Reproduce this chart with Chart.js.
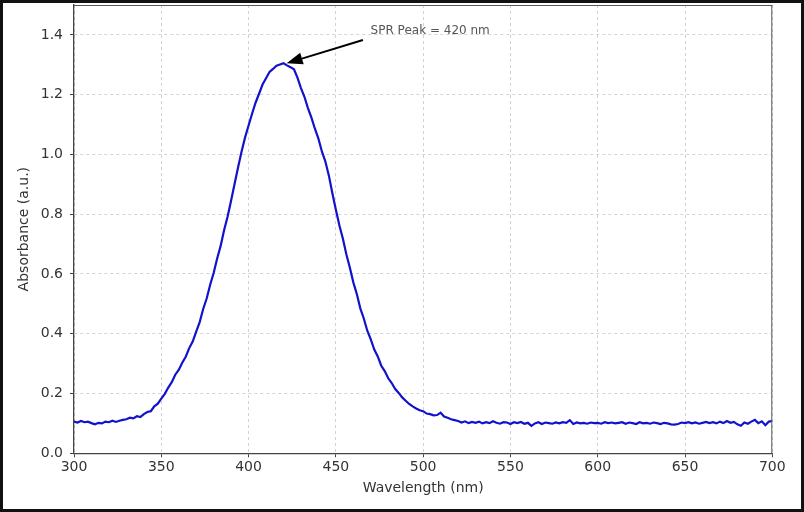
<!DOCTYPE html>
<html>
<head>
<meta charset="utf-8">
<script src="https://cdn.jsdelivr.net/npm/chart.js@4.4.1/dist/chart.umd.min.js"></script>
<style>
    html, body { margin: 0; padding: 0; background: #fff; }
    .frame {
        width: 804px; height: 512px;
        box-sizing: border-box;
        border: 3px solid #111;
        background: #fff;
    }
    canvas { display: block; }
</style>
</head>
<body>
<div class="frame">
    <canvas id="spectrum" width="798" height="506"></canvas>
</div>
<script>
// 波長 (nm)
const wavelengths = [
    300, 302, 304, 306, 308, 310, 312, 314, 316, 318, 320, 322, 324, 326, 328, 330, 332, 334, 336, 338, 340, 342, 344, 346, 348,
    350, 352, 354, 356, 358, 360, 362, 364, 366, 368, 370, 372, 374, 376, 378, 380, 382, 384, 386, 388, 390, 392, 394, 396, 398,
    400, 402, 404, 406, 408, 410, 412, 414, 416, 418, 420, 422, 424, 426, 428, 430, 432, 434, 436, 438, 440, 442, 444, 446, 448,
    450, 452, 454, 456, 458, 460, 462, 464, 466, 468, 470, 472, 474, 476, 478, 480, 482, 484, 486, 488, 490, 492, 494, 496, 498,
    500, 502, 504, 506, 508, 510, 512, 514, 516, 518, 520, 522, 524, 526, 528, 530, 532, 534, 536, 538, 540, 542, 544, 546, 548,
    550, 552, 554, 556, 558, 560, 562, 564, 566, 568, 570, 572, 574, 576, 578, 580, 582, 584, 586, 588, 590, 592, 594, 596, 598,
    600, 602, 604, 606, 608, 610, 612, 614, 616, 618, 620, 622, 624, 626, 628, 630, 632, 634, 636, 638, 640, 642, 644, 646, 648,
    650, 652, 654, 656, 658, 660, 662, 664, 666, 668, 670, 672, 674, 676, 678, 680, 682, 684, 686, 688, 690, 692, 694, 696, 698, 700
];

// 吸光度 (a.u.)
const absorbance = [
    0.106, 0.103, 0.108, 0.104, 0.106, 0.101, 0.097, 0.102, 0.100, 0.106, 0.104, 0.109, 0.105, 0.109, 0.112, 0.114, 0.119, 0.117, 0.124, 0.121, 0.131, 0.138, 0.141, 0.157, 0.166,
    0.183, 0.199, 0.220, 0.238, 0.263, 0.279, 0.303, 0.323, 0.352, 0.374, 0.407, 0.439, 0.483, 0.518, 0.564, 0.603, 0.652, 0.694, 0.747, 0.792, 0.846, 0.902, 0.957, 1.010, 1.057,
    1.097, 1.136, 1.173, 1.203, 1.234, 1.255, 1.276, 1.286, 1.297, 1.301, 1.305, 1.298, 1.292, 1.285, 1.257, 1.222, 1.193, 1.155, 1.123, 1.086, 1.053, 1.010, 0.976, 0.929, 0.870,
    0.815, 0.763, 0.719, 0.666, 0.622, 0.572, 0.533, 0.485, 0.451, 0.410, 0.381, 0.347, 0.324, 0.293, 0.275, 0.251, 0.235, 0.215, 0.202, 0.187, 0.176, 0.165, 0.157, 0.150, 0.144,
    0.141, 0.133, 0.131, 0.127, 0.128, 0.136, 0.123, 0.119, 0.114, 0.111, 0.108, 0.103, 0.107, 0.101, 0.105, 0.102, 0.106, 0.100, 0.104, 0.101, 0.107, 0.102, 0.099, 0.104, 0.103,
    0.098, 0.104, 0.101, 0.105, 0.099, 0.102, 0.092, 0.100, 0.104, 0.098, 0.103, 0.101, 0.099, 0.103, 0.100, 0.104, 0.102, 0.111, 0.098, 0.103, 0.100, 0.102, 0.099, 0.103, 0.101,
    0.102, 0.099, 0.104, 0.101, 0.103, 0.100, 0.102, 0.104, 0.099, 0.103, 0.101, 0.098, 0.104, 0.100, 0.102, 0.099, 0.103, 0.101, 0.098, 0.102, 0.100, 0.097, 0.096, 0.098, 0.103,
    0.101, 0.104, 0.100, 0.103, 0.099, 0.102, 0.105, 0.101, 0.104, 0.100, 0.106, 0.101, 0.108, 0.102, 0.105, 0.097, 0.092, 0.103, 0.099, 0.106, 0.112, 0.101, 0.107, 0.094, 0.106, 0.108
];

// 軸範圍與刻度
const xRange = [300, 700];
const xStep = 50;
const yRange = [0, 1.5];
const yStep = 0.2;

// 標註: SPR 峰
const peakLabel = 'SPR Peak = 420 nm';
const peakLabelAt = { x: 469.9, y: 1.413 };
const arrowTail = { x: 465.5, y: 1.383 };
const arrowTip = { x: 421.8, y: 1.305 };

const FONT = '"DejaVu Sans", sans-serif';

// 上、右邊框與標註
const frameAndNote = {
    id: 'frameAndNote',
    afterDraw(chart) {
        const { ctx, chartArea: a, scales: { x, y } } = chart;
        ctx.save();
        ctx.strokeStyle = '#555';
        ctx.lineWidth = 1;
        ctx.beginPath();
        ctx.moveTo(a.left, a.top + 0.5);
        ctx.lineTo(a.right, a.top + 0.5);
        ctx.moveTo(a.right - 0.5, a.top);
        ctx.lineTo(a.right - 0.5, a.bottom);
        ctx.stroke();

        // 文字
        ctx.fillStyle = '#555';
        ctx.font = '12px ' + FONT;
        ctx.textAlign = 'left';
        ctx.textBaseline = 'middle';
        ctx.fillText(peakLabel, x.getPixelForValue(peakLabelAt.x), y.getPixelForValue(peakLabelAt.y));

        // 箭頭
        const x0 = x.getPixelForValue(arrowTail.x), y0 = y.getPixelForValue(arrowTail.y);
        const x1 = x.getPixelForValue(arrowTip.x), y1 = y.getPixelForValue(arrowTip.y);
        const ang = Math.atan2(y1 - y0, x1 - x0);
        const headLen = 16, headHalf = 6;
        const bx = x1 - headLen * Math.cos(ang), by = y1 - headLen * Math.sin(ang);
        ctx.strokeStyle = '#000';
        ctx.fillStyle = '#000';
        ctx.lineWidth = 2;
        ctx.beginPath();
        ctx.moveTo(x0, y0);
        ctx.lineTo(bx, by);
        ctx.stroke();
        ctx.beginPath();
        ctx.moveTo(x1, y1);
        ctx.lineTo(bx + headHalf * Math.sin(ang), by - headHalf * Math.cos(ang));
        ctx.lineTo(bx - headHalf * Math.sin(ang), by + headHalf * Math.cos(ang));
        ctx.closePath();
        ctx.fill();
        ctx.restore();
    }
};

document.addEventListener('DOMContentLoaded', function() {
    const ctx = document.getElementById('spectrum').getContext('2d');
    const points = wavelengths.map((w, i) => ({ x: w, y: absorbance[i] }));

    new Chart(ctx, {
        type: 'line',
        data: {
            datasets: [{
                data: points,
                borderColor: '#1212cc',
                borderWidth: 2.2,
                pointRadius: 0,
                tension: 0,
                fill: false
            }]
        },
        options: {
            responsive: false,
            animation: false,
            layout: { padding: { top: 2, right: 28.7, bottom: 0, left: 0 } },
            plugins: {
                legend: { display: false },
                tooltip: { enabled: false }
            },
            scales: {
                x: {
                    type: 'linear',
                    min: xRange[0],
                    max: xRange[1],
                    ticks: {
                        stepSize: xStep,
                        color: '#333',
                        padding: 2,
                        maxRotation: 0,
                        font: { family: FONT, size: 14 }
                    },
                    grid: {
                        color: '#d2d2d2',
                        lineWidth: 1,
                        tickColor: '#444',
                        tickLength: 4,
                        tickBorderDash: []
                    },
                    border: { color: '#444', width: 1.3, dash: [3, 3] },
                    title: {
                        display: true,
                        text: 'Wavelength (nm)',
                        color: '#333',
                        font: { family: FONT, size: 14 },
                        padding: { top: 0, bottom: 12 }
                    },
                    afterFit(scale) {
                        scale.height = 55.7;
                        scale.paddingLeft = 0;
                        scale.paddingRight = 0;
                    }
                },
                y: {
                    min: yRange[0],
                    max: yRange[1],
                    ticks: {
                        stepSize: yStep,
                        includeBounds: false,
                        color: '#333',
                        padding: 7,
                        font: { family: FONT, size: 14 },
                        callback: v => v.toFixed(1)
                    },
                    grid: {
                        color: '#d2d2d2',
                        lineWidth: 1,
                        tickColor: '#444',
                        tickLength: 4,
                        tickBorderDash: []
                    },
                    border: { color: '#444', width: 1.3, dash: [3, 3] },
                    title: {
                        display: true,
                        text: 'Absorbance (a.u.)',
                        color: '#333',
                        font: { family: FONT, size: 14 },
                        padding: { top: 13, bottom: 0 }
                    },
                    afterFit(scale) {
                        scale.width = 71;
                        scale.paddingTop = 0;
                        scale.paddingBottom = 0;
                    }
                }
            }
        },
        plugins: [frameAndNote]
    });
});
</script>
</body>
</html>
